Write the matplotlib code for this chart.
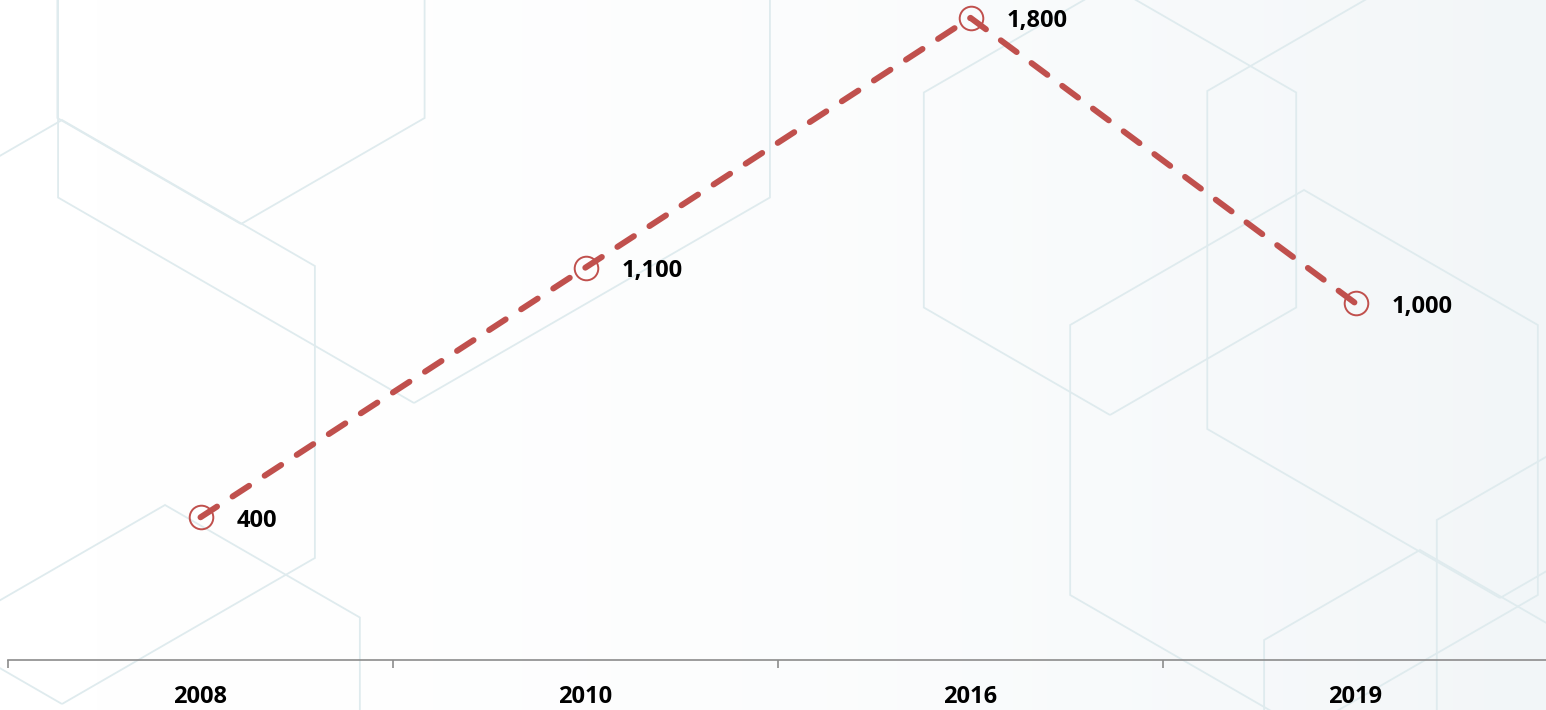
import numpy as np
import matplotlib
matplotlib.use("Agg")
import matplotlib.pyplot as plt
from matplotlib.patches import RegularPolygon
from matplotlib.colors import LinearSegmentedColormap

years = ["2008", "2010", "2016", "2019"]
values = [400, 1100, 1800, 1000]

# decorative hexagon outlines in the background (pixel coords: cx, cy, radius)
hex_cx = [241, 62, 414, 1110, 1304, 1500, 165, 1610, 1420]
hex_cy = [12, 412, -8, 200, 460, 260, 730, 620, 730]
hex_r = [212, 292, 411, 215, 270, 338, 225, 200, 180]

plt.rcParams["font.family"] = ["Open Sans", "DejaVu Sans"]

fig = plt.figure(figsize=(15.46, 7.10), dpi=100)

# background
bg = fig.add_axes([0, 0, 1, 1], zorder=0)
bg.set_xlim(0, 1546)
bg.set_ylim(710, 0)
bg.axis("off")
grad = np.linspace(0, 1, 400)[None, :] ** 2
cmap = LinearSegmentedColormap.from_list("bg", ["#FFFFFF", "#F2F6F8"])
bg.imshow(grad, cmap=cmap, extent=[0, 1546, 710, 0], aspect="auto", zorder=0)
for cx, cy, r in zip(hex_cx, hex_cy, hex_r):
    bg.add_patch(RegularPolygon((cx, cy), 6, radius=r, orientation=0,
                                fill=False, edgecolor="#DFEBEE", lw=1.3, zorder=1))

ax = fig.add_axes([8 / 1546, 50 / 710, 1540 / 1546, 660 / 710], zorder=1)
ax.patch.set_alpha(0)

x = np.arange(len(years))
line, = ax.plot(x, values, color="#C0504D", lw=4.3, dash_capstyle="round",
                marker="o", markersize=17, markerfacecolor="none",
                markeredgecolor="#C0504D", markeredgewidth=1.4)
line.set_dashes((3.3, 3.1))

for xi, v in zip(x, values):
    ax.annotate(f"{v:,}", (xi, v), xytext=(26, -2.5), textcoords="offset points",
                ha="left", va="center", fontsize=17, fontweight="bold", color="black")

ax.set_xlim(-0.5, len(years) - 0.5)
ax.set_ylim(0, 1850)
ax.set_xticks(x)
ax.set_xticklabels(years, fontsize=17, fontweight="bold")
ax.set_xticks(np.arange(len(years)) - 0.5, minor=True)
ax.tick_params(axis="x", which="major", length=0, pad=18)
ax.tick_params(axis="x", which="minor", length=6, color="#8C8C8C", width=1.2)
ax.set_yticks([])
for s in ["top", "right", "left"]:
    ax.spines[s].set_visible(False)
ax.spines["bottom"].set_color("#8C8C8C")
ax.spines["bottom"].set_linewidth(1.2)

fig.savefig("out.png", dpi=100)
